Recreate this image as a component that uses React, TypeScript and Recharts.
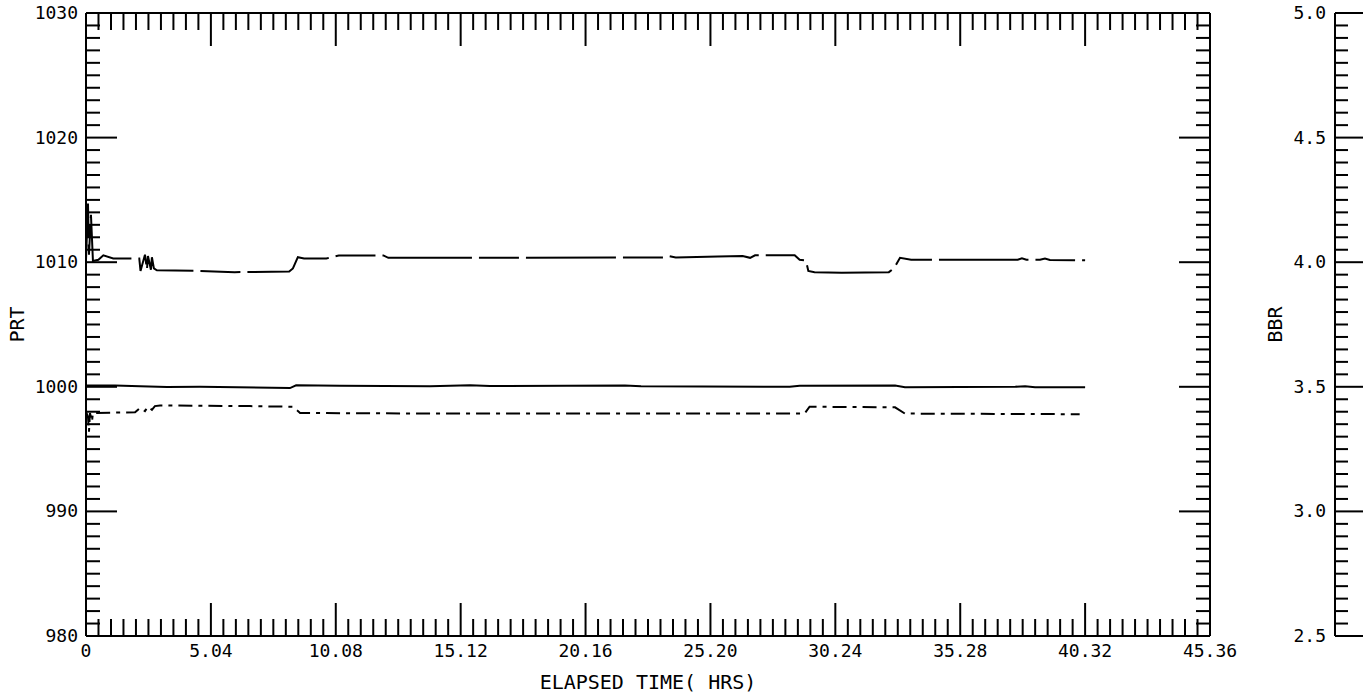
import { LineChart, Line, XAxis, YAxis, Label } from "recharts";

// elapsed time (hrs) / value pairs
const upperTime = [0, 0.08, 0.12, 0.2, 0.28, 0.5, 0.7, 1.1, 2.15, 2.2, 2.38, 2.46, 2.5, 2.62, 2.66, 2.74, 2.86, 4.5, 6.0, 8.2, 8.35, 8.55, 8.8, 9.7, 10.2, 12.0, 12.2, 23.3, 23.5, 23.8, 25.5, 26.5, 26.8, 27.0, 28.6, 28.8, 29.05, 29.15, 29.4, 30.5, 32.4, 32.6, 32.85, 33.3, 37.6, 37.77, 37.95, 38.5, 38.7, 38.9, 40.32];
const upperPrt = [1010.2, 1014.7, 1010.6, 1013.8, 1010.1, 1010.2, 1010.55, 1010.3, 1010.3, 1009.3, 1010.6, 1009.4, 1010.5, 1009.4, 1010.4, 1009.5, 1009.35, 1009.3, 1009.2, 1009.25, 1009.5, 1010.4, 1010.3, 1010.3, 1010.54, 1010.54, 1010.35, 1010.38, 1010.5, 1010.38, 1010.45, 1010.5, 1010.35, 1010.55, 1010.56, 1010.2, 1010.15, 1009.3, 1009.2, 1009.15, 1009.2, 1009.5, 1010.35, 1010.2, 1010.2, 1010.32, 1010.2, 1010.2, 1010.3, 1010.18, 1010.15];

const middleTime = [0, 1.17, 2.18, 3.27, 4.6, 8.23, 8.48, 10.25, 13.88, 15.5, 16.3, 21.75, 22.4, 28.4, 28.8, 32.65, 33.05, 37.5, 37.9, 38.3, 40.32];
const middlePrt = [1000.1, 1000.1, 1000.04, 999.98, 1000.0, 999.9, 1000.12, 1000.08, 1000.05, 1000.12, 1000.06, 1000.1, 1000.05, 1000.0, 1000.08, 1000.1, 999.97, 1000.0, 1000.05, 999.97, 999.97];

const lowerTime = [0, 0.08, 0.12, 0.16, 0.24, 0.28, 1.98, 2.18, 2.38, 2.5, 2.66, 2.78, 2.99, 6.62, 8.35, 8.64, 14.7, 29.0, 29.2, 32.65, 33.05, 40.1];
const lowerPrt = [998.0, 997.6, 996.4, 997.9, 997.2, 997.9, 997.95, 998.3, 998.05, 998.4, 998.15, 998.45, 998.5, 998.45, 998.4, 997.9, 997.85, 997.85, 998.4, 998.35, 997.85, 997.8];

const xMajorLabels = ["0", "5.04", "10.08", "15.12", "20.16", "25.20", "30.24", "35.28", "40.32", "45.36"];
const prtMajorLabels = ["980", "990", "1000", "1010", "1020", "1030"];
const bbrMajorLabels = ["2.5", "3.0", "3.5", "4.0", "4.5", "5.0"];

const X_STEP = 0.504;
const xTicks = Array.from({ length: 91 }, (_, i) => +(i * X_STEP).toFixed(3));
const prtTicks = Array.from({ length: 51 }, (_, i) => 980 + i);
const bbrTicks = Array.from({ length: 51 }, (_, i) => +(2.5 + i * 0.05).toFixed(2));

const toRows = (ts: number[], vs: number[]) => ts.map((t, i) => ({ t, v: vs[i] }));
const upperData = toRows(upperTime, upperPrt);
const middleData = toRows(middleTime, middlePrt);
const lowerData = toRows(lowerTime, lowerPrt);

const FONT = "'DejaVu Sans Mono', monospace";
const INK = "#000";

const BottomTick = (p: any) => {
  const i = Math.round(p.payload.value / X_STEP);
  const major = i % 10 === 0;
  return (
    <g>
      <line x1={p.x} x2={p.x} y1={p.y} y2={p.y - (major ? 33 : 17)} stroke={INK} strokeWidth={2} />
      {major && (
        <text x={p.x} y={p.y + 21} textAnchor="middle" fontFamily={FONT} fontSize={18} fill={INK}>
          {xMajorLabels[i / 10]}
        </text>
      )}
    </g>
  );
};

const TopTick = (p: any) => {
  const i = Math.round(p.payload.value / X_STEP);
  const major = i % 10 === 0;
  return <line x1={p.x} x2={p.x} y1={p.y} y2={p.y + (major ? 33 : 17)} stroke={INK} strokeWidth={2} />;
};

const LeftTick = (p: any) => {
  const i = Math.round(p.payload.value - 980);
  const major = i % 10 === 0;
  return (
    <g>
      <line x1={p.x} x2={p.x + (major ? 31 : 14)} y1={p.y} y2={p.y} stroke={INK} strokeWidth={2} />
      {major && (
        <text x={p.x - 8} y={p.y + 6} textAnchor="end" fontFamily={FONT} fontSize={18} fill={INK}>
          {prtMajorLabels[i / 10]}
        </text>
      )}
    </g>
  );
};

const RightTick = (p: any) => {
  const i = Math.round(p.payload.value - 980);
  const major = i % 10 === 0;
  return <line x1={p.x} x2={p.x - (major ? 31 : 14)} y1={p.y} y2={p.y} stroke={INK} strokeWidth={2} />;
};

const BbrTick = (p: any) => {
  const i = Math.round((p.payload.value - 2.5) / 0.05);
  const major = i % 10 === 0;
  return (
    <g>
      <line x1={p.x} x2={p.x + (major ? 28 : 13)} y1={p.y} y2={p.y} stroke={INK} strokeWidth={2} />
      {major && (
        <text x={p.x - 9} y={p.y + 6} textAnchor="end" fontFamily={FONT} fontSize={18} fill={INK}>
          {bbrMajorLabels[i / 10]}
        </text>
      )}
    </g>
  );
};

const axisLine = { stroke: INK, strokeWidth: 2 };

export default function App() {
  return (
    <div style={{ position: "absolute", left: 0, top: 0, background: "#fff" }}>
      <LineChart width={1370} height={695} margin={{ top: 12, right: 0, bottom: 0, left: 0 }}>
        <XAxis
          xAxisId="b"
          dataKey="t"
          type="number"
          domain={[0, 45.36]}
          ticks={xTicks}
          interval={0}
          tickSize={0}
          tickMargin={0}
          height={59}
          axisLine={axisLine}
          tickLine={false}
          tick={BottomTick}
          allowDataOverflow
        >
          <Label
            content={(lp: any) => (
              <text
                x={lp.viewBox.x + lp.viewBox.width / 2}
                y={lp.viewBox.y + 53}
                textAnchor="middle"
                fontFamily={FONT}
                fontSize={20}
                fill={INK}
              >
                ELAPSED TIME( HRS)
              </text>
            )}
          />
        </XAxis>
        <XAxis
          xAxisId="top"
          orientation="top"
          dataKey="t"
          type="number"
          domain={[0, 45.36]}
          ticks={xTicks}
          interval={0}
          tickSize={0}
          tickMargin={0}
          height={1}
          axisLine={axisLine}
          tickLine={false}
          tick={TopTick}
          allowDataOverflow
        />
        <YAxis
          yAxisId="l"
          type="number"
          domain={[980, 1030]}
          ticks={prtTicks}
          interval={0}
          tickSize={0}
          tickMargin={0}
          width={86}
          axisLine={axisLine}
          tickLine={false}
          tick={LeftTick}
          allowDataOverflow
        >
          <Label
            content={(lp: any) => {
              const cx = lp.viewBox.x + 17;
              const cy = lp.viewBox.y + lp.viewBox.height / 2;
              return (
                <text x={cx} y={cy} transform={`rotate(-90 ${cx} ${cy})`} textAnchor="middle" dominantBaseline="central" fontFamily={FONT} fontSize={20} fill={INK}>
                  PRT
                </text>
              );
            }}
          />
        </YAxis>
        <YAxis
          yAxisId="r1"
          orientation="right"
          type="number"
          domain={[980, 1030]}
          ticks={prtTicks}
          interval={0}
          tickSize={0}
          tickMargin={0}
          width={125}
          axisLine={axisLine}
          tickLine={false}
          tick={RightTick}
          allowDataOverflow
        >
          <Label
            content={(lp: any) => {
              const cx = lp.viewBox.x + 65;
              const cy = lp.viewBox.y + lp.viewBox.height / 2;
              return (
                <text x={cx} y={cy} transform={`rotate(-90 ${cx} ${cy})`} textAnchor="middle" dominantBaseline="central" fontFamily={FONT} fontSize={20} fill={INK}>
                  BBR
                </text>
              );
            }}
          />
        </YAxis>
        <YAxis
          yAxisId="r2"
          orientation="right"
          type="number"
          domain={[2.5, 5]}
          ticks={bbrTicks}
          interval={0}
          tickSize={0}
          tickMargin={0}
          width={35}
          axisLine={axisLine}
          tickLine={false}
          tick={BbrTick}
          allowDataOverflow
        />
        <Line
          data={upperData}
          xAxisId="b"
          yAxisId="l"
          dataKey="v"
          type="linear"
          stroke={INK}
          strokeWidth={2}
          strokeDasharray="90 7 40 7"
          dot={false}
          isAnimationActive={false}
        />
        <Line
          data={middleData}
          xAxisId="top"
          yAxisId="r1"
          dataKey="v"
          type="linear"
          stroke={INK}
          strokeWidth={2}
          dot={false}
          isAnimationActive={false}
        />
        <Line
          data={lowerData}
          xAxisId="b"
          yAxisId="l"
          dataKey="v"
          type="linear"
          stroke={INK}
          strokeWidth={2}
          strokeDasharray="14 6 4 6"
          dot={false}
          isAnimationActive={false}
        />
      </LineChart>
    </div>
  );
}
